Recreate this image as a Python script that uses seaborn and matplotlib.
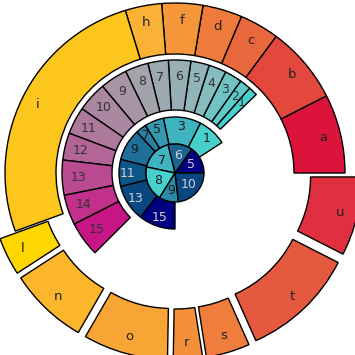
import matplotlib
matplotlib.use("Agg")
import matplotlib.pyplot as plt
import seaborn as sns
import numpy as np

sns.set_theme(style="white")
plt.rcParams["font.family"] = ["DejaVu Sans"]

# ---- data (angular sizes in degrees) ----
outer_labels = ["a", "b", "c", "d", "f", "h", "i", "l", "n", "o", "r", "s", "t", "u"]
outer_sizes = [27, 26.5, 13.5, 13.5, 14, 12.5, 93, 13, 27, 29, 10, 15, 39, 27]
outer_explode = [0, 0, 0, 0, 0, 0, 0, 17, 17, 17, 17, 17, 17, 17]
outer_colors = ["#dc143c", "#e2483c", "#e9673c", "#ee7b3b", "#f5963a", "#fab236",
                "#fcc61c", "#ffd700", "#fbb62c", "#f8a535", "#f4903a", "#ef7d3b",
                "#e55a3e", "#e0303f"]

middle_labels = [str(i) for i in range(1, 16)]
middle_sizes = [4.7, 5.8, 8.9, 9, 9.5, 11.5, 10.5, 12, 14, 15.5, 14, 14, 18, 15.5, 18]
middle_start = 44

ring2_labels = ["1", "3", "5", "7", "9", "11", "13", "15"]
ring2_sizes = [30, 39, 20, 11, 33, 28, 38, 38]
ring2_start = 33
ring2_colors = ["#48d1cc", "#3fb4c0", "#3598b0", "#2a80a4", "#1f7099", "#0f5688",
                "#0a4780", "#000080"]

inner_labels = ["5", "6", "7", "8", "9", "10"]
inner_sizes = [55, 49, 64, 70, 39, 83]
inner_colors = ["#000080", "#1a6590", "#3fb4c0", "#48d1cc", "#2a8aa8", "#0a4780"]

middle_colors = sns.blend_palette(["mediumturquoise", "#8fb8bd", "#a3a3ab",
                                   "#b0739a", "mediumvioletred"],
                                  n_colors=len(middle_sizes))

fig = plt.figure(figsize=(3.55, 3.55), dpi=100)
ax = fig.add_axes([0, 0, 1, 1])

edge = dict(edgecolor="black", linewidth=1.0)


def luminance(c):
    r, g, b = matplotlib.colors.to_rgb(c)
    return 0.299 * r + 0.587 * g + 0.114 * b


def ring(sizes, labels, colors, radius, width, start, label_r, fs, explode=None,
         textcolor=None):
    total = sum(sizes)
    vals = list(sizes)
    cols = list(colors)
    ex = list(explode) if explode is not None else [0] * len(vals)
    if total < 359.9:
        vals.append(360 - total)
        cols.append("white")
        ex.append(0)
    wp = dict(**edge)
    if width is not None:
        wp["width"] = width
    wedges, _ = ax.pie(vals, colors=cols, radius=radius, startangle=start,
                       counterclock=True, explode=ex, normalize=True,
                       wedgeprops=wp)
    if total < 359.9:
        wedges[-1].set_visible(False)
    for w, lab, col in zip(wedges, labels, colors):
        mid = np.deg2rad((w.theta1 + w.theta2) / 2)
        cx, cy = w.center
        x = cx + label_r * np.cos(mid)
        y = cy + label_r * np.sin(mid)
        if textcolor is None:
            tc = "#cfcfcf" if luminance(col) < 0.345 else "#1a1a1a"
        else:
            tc = textcolor
        ax.text(x, y, lab, ha="center", va="center", fontsize=fs, color=tc)


ring(outer_sizes, outer_labels, outer_colors, 170, 51, 0, 153, 9.5,
     explode=outer_explode, textcolor="#222222")
ring(middle_sizes, middle_labels, middle_colors, 113, 50, middle_start, 97, 9,
     textcolor="#333333")
ring(ring2_sizes, ring2_labels, ring2_colors, 56, 27, ring2_start, 47, 9)
ring(inner_sizes, inner_labels, inner_colors, 29, None, 0, 18, 9)

ax.set_xlim(-175, 180)
ax.set_ylim(-182, 173)
ax.set_aspect("equal")
ax.axis("off")

fig.savefig("out.png", dpi=100)
